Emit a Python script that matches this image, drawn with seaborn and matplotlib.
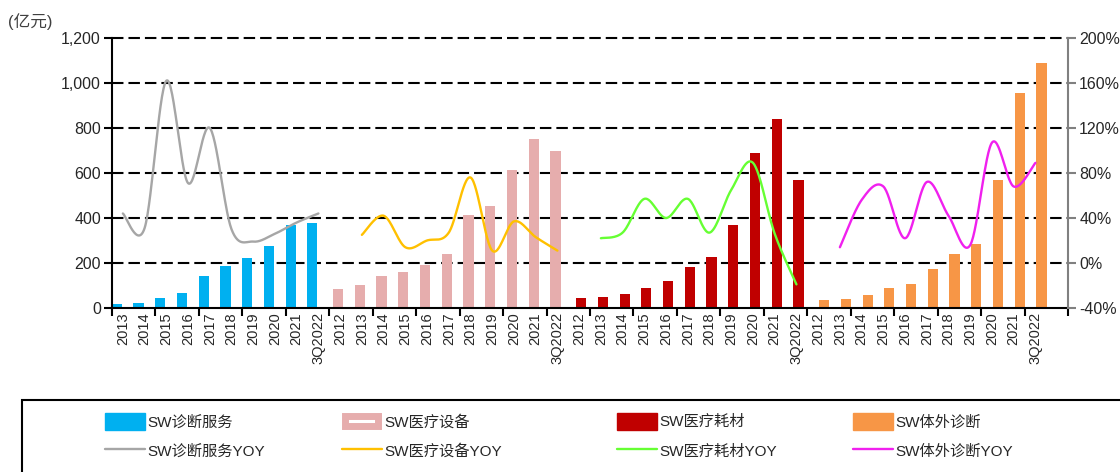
import numpy as np
import pandas as pd
import matplotlib
matplotlib.use("Agg")
import matplotlib.pyplot as plt
import seaborn as sns
from matplotlib.patches import Patch, Rectangle
from matplotlib.lines import Line2D
from matplotlib.legend_handler import HandlerPatch
from matplotlib.ticker import FuncFormatter, FixedLocator

# ---------------- data ----------------
series_names = ["SW诊断服务", "SW医疗设备", "SW医疗耗材", "SW体外诊断"]

labels_diag_service = ["2013", "2014", "2015", "2016", "2017", "2018", "2019", "2020", "2021", "3Q2022"]
labels_other = ["2012", "2013", "2014", "2015", "2016", "2017", "2018", "2019", "2020", "2021", "3Q2022"]

diag_service_rev = [17, 22, 44, 68, 144, 187, 221, 274, 367, 378]
diag_service_yoy = [44, 31, 162, 71, 120, 30, 19, 26, 36, 44]

equipment_rev = [86, 104, 144, 160, 190, 239, 412, 453, 615, 750, 696]
equipment_yoy = [None, 25, 42, 14, 20, 27, 76, 11, 37, 23, 11]

consumables_rev = [44, 49, 61, 90, 119, 182, 227, 367, 689, 839, 567]
consumables_yoy = [None, 22, 27, 57, 40, 57, 27, 65, 89, 26, -19]

ivd_rev = [34, 38, 56, 90, 105, 175, 241, 283, 570, 957, 1090]
ivd_yoy = [None, 14, 56, 68, 22, 72, 42, 16, 107, 68, 89]

bar_colors = ["#00B0F0", "#E6ADAD", "#C00000", "#F79646"]
line_colors = ["#A6A6A6", "#FFC000", "#66FF33", "#F020EE"]

groups = [
    (labels_diag_service, diag_service_rev, diag_service_yoy),
    (labels_other, equipment_rev, equipment_yoy),
    (labels_other, consumables_rev, consumables_yoy),
    (labels_other, ivd_rev, ivd_yoy),
]

# ---------------- build tables ----------------
rows = []
tick_labels = []
line_data = []
pos = 0
for name, (labs, revs, yoys) in zip(series_names, groups):
    xs, ys = [], []
    for lab, r, y in zip(labs, revs, yoys):
        rows.append({"pos": pos, "value": r, "series": name})
        tick_labels.append(lab)
        if y is not None:
            xs.append(pos)
            ys.append(y)
        pos += 1
    line_data.append((np.array(xs, float), np.array(ys, float)))
tick_labels.append("")  # trailing empty category
n_cat = len(tick_labels)
bars_df = pd.DataFrame(rows)


def smooth(x, y, n=30):
    """Excel-style smoothed line (cubic Bezier through points)."""
    P = np.column_stack([x, y])
    m = len(P)
    out = []
    for i in range(m - 1):
        p0 = P[i - 1] if i > 0 else P[i]
        p1, p2 = P[i], P[i + 1]
        p3 = P[i + 2] if i + 2 < m else P[i + 1]
        b1 = p1 + (p2 - p0) / 6.0
        b2 = p2 - (p3 - p1) / 6.0
        t = np.linspace(0, 1, n, endpoint=(i == m - 2))[:, None]
        seg = ((1 - t) ** 3) * p1 + 3 * ((1 - t) ** 2) * t * b1 + 3 * (1 - t) * t ** 2 * b2 + t ** 3 * p2
        out.append(seg)
    out = np.vstack(out)
    return out[:, 0], out[:, 1]


# ---------------- plot ----------------
sns.set_theme(style="ticks")
plt.rcParams["font.family"] = ["Liberation Sans", "Noto Sans CJK SC", "DejaVu Sans"]

fig = plt.figure(figsize=(11.2, 4.72), dpi=100)
ax = fig.add_axes([0.1, 0.3475, 0.8536, 0.572])

for v in range(200, 1201, 200):
    ax.axhline(v, color="black", lw=1.5, ls=(0, (5.5, 2.4)), zorder=0.5, clip_on=False)

sns.barplot(data=bars_df, x="pos", y="value", hue="series", hue_order=series_names,
            palette=bar_colors, dodge=True, width=0.74, native_scale=True,
            saturation=1, linewidth=0, legend=False, ax=ax, zorder=2)
for p in ax.patches:
    cx = p.get_x() + p.get_width() / 2
    p.set_width(0.47)
    p.set_x(cx - 0.235)

ax.set_xlim(-0.5, n_cat - 0.5)
ax.set_ylim(0, 1200)
ax.set_yticks(range(0, 1201, 200))
ax.yaxis.set_major_formatter(FuncFormatter(lambda v, _: f"{int(v):,}"))
ax.xaxis.set_major_locator(FixedLocator(np.arange(n_cat)))
ax.set_xticklabels(tick_labels, rotation=90)
ax.xaxis.set_minor_locator(FixedLocator(np.arange(-0.5, n_cat + 0.1, 2)))
ax.set_xlabel("")
ax.set_ylabel("")

ax2 = ax.twinx()
for (xs, ys), c in zip(line_data, line_colors):
    sx, sy = smooth(xs, ys)
    sns.lineplot(x=sx, y=sy, ax=ax2, color=c, lw=1.7, sort=False, estimator=None)
ax2.set_ylim(-40, 200)
ax2.set_yticks(range(-40, 201, 40))
ax2.yaxis.set_major_formatter(FuncFormatter(lambda v, _: f"{int(v)}%"))
ax2.set_xlim(-0.5, n_cat - 0.5)
ax2.set_ylabel("")

for a in (ax, ax2):
    a.spines["top"].set_visible(False)
ax.spines["right"].set_visible(False)
ax2.spines["left"].set_visible(False)
ax2.spines["bottom"].set_visible(False)
ax.spines["left"].set_color("black")
ax.spines["left"].set_linewidth(1.5)
ax.spines["bottom"].set_color("black")
ax.spines["bottom"].set_linewidth(1.5)
ax2.spines["right"].set_color("#808080")
ax2.spines["right"].set_linewidth(1.5)

ax.tick_params(axis="y", direction="out", length=6, width=1.5, color="black",
               labelsize=11.5, labelcolor="#262626", pad=2)
ax.tick_params(axis="x", which="major", length=0, labelsize=10.5, labelcolor="#262626", pad=3)
ax.tick_params(axis="x", which="minor", direction="out", length=6, width=1.5, color="black")
ax2.tick_params(axis="y", direction="out", length=6, width=1.5, color="#808080",
                labelsize=11.5, labelcolor="#262626", pad=2)

fig.text(8 / 1120, 1 - 22 / 472, "(亿元)", fontsize=12, color="#404040", va="center", ha="left")

# legend frame
fig.add_artist(Rectangle((22 / 1120, -0.1), 1.2, 0.1 + (1 - 400 / 472),
                         transform=fig.transFigure, fill=False, ec="black", lw=1.5, clip_on=False))


def framed_patch(legend, orig_handle, xdescent, ydescent, width, height, fontsize):
    ins = 2.5
    return Rectangle((-xdescent + ins, -ydescent + ins), width - 2 * ins, height - 2 * ins)


col_x = [105, 342, 617, 853]
for k in range(4):
    hmap = {}
    if k == 1:
        bh = Patch(facecolor="white", edgecolor=bar_colors[k], linewidth=5.0)
        hmap = {bh: HandlerPatch(patch_func=framed_patch)}
    else:
        bh = Patch(facecolor=bar_colors[k], edgecolor=bar_colors[k])
    lh = Line2D([], [], color=line_colors[k], lw=1.7)
    fig.legend([bh, lh], [series_names[k], series_names[k] + "YOY"], loc="upper left",
               bbox_to_anchor=(col_x[k] / 1120, 1 - 413 / 472), frameon=False, fontsize=11,
               handlelength=2.6, handleheight=1.3, handletextpad=0.15, labelspacing=0.85,
               borderpad=0, borderaxespad=0, handler_map=hmap)

fig.savefig("out.png", dpi=100)
